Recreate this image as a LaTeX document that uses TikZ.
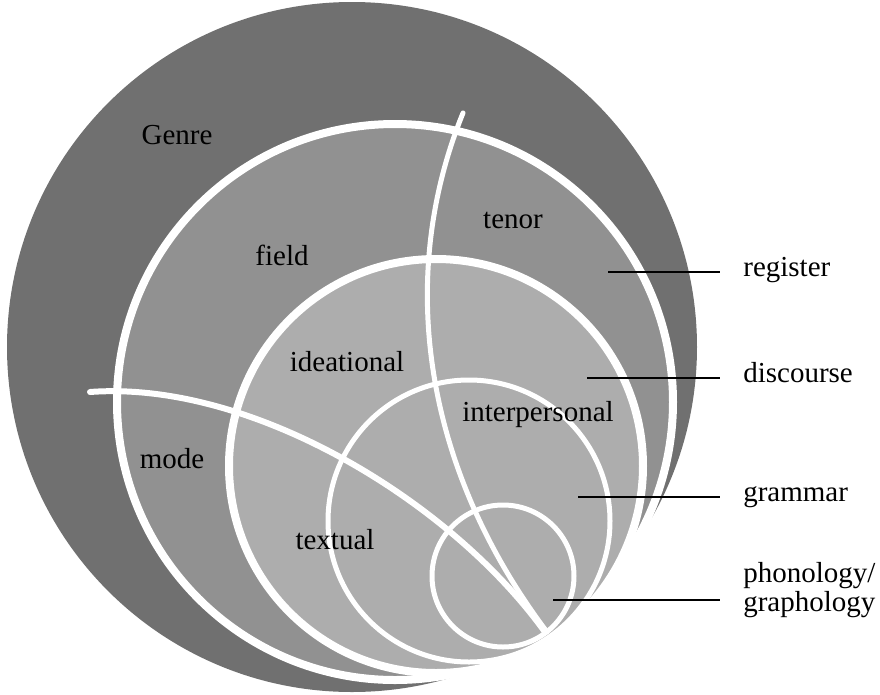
\documentclass[tikz,border=0pt]{standalone}
\usepackage{fontspec}
\setmainfont{Liberation Serif}
\usepackage{xcolor}
\usepackage{tikz}

\definecolor{genregray}{gray}{0.44}
\definecolor{reggray}{gray}{0.57}
\definecolor{discgray}{gray}{0.68}

\begin{document}
\begin{tikzpicture}[
    x=0.02cm, y=-0.02cm,
    font=\fontsize{16.5}{19}\selectfont,
    ring/.style={draw=white, line width=0.16cm},
    thinring/.style={draw=white, line width=0.1cm},
    split/.style={draw=white, line width=0.1cm, line cap=round},
    lead/.style={draw=black, line width=0.055cm},
    tag/.style={inner sep=0pt},
    lbl/.style={anchor=west, inner ysep=0pt, inner xsep=0.46cm,
                text height=0.68em, text depth=0.22em},
  ]

  \useasboundingbox (0,0) rectangle (880,694);

  % -- nested strata
  \fill[genregray] (352,347) circle[radius=345];
  \filldraw[ring, fill=reggray] (395,402) circle[radius=278];
  \filldraw[ring, fill=discgray] (436,466) circle[radius=207];
  \draw[thinring] (469,521) circle[radius=141];
  \draw[thinring] (503,576) circle[radius=71];

  % -- metafunction splits
  \draw[split] (463,113) .. controls (395,280) and (425,470) .. (547,632);
  \draw[split, line width=0.12cm] (90,392) .. controls (250,380) and (450,500) .. (545,632);

  % -- inner labels
  \node[tag] (genre) at (177,135) {Genre};
  \node[tag] (field) at (282,255) {field};
  \node[tag] (tenor) at (513,220) {tenor};
  \node[tag] (ideational) at (347,362) {ideational};
  \node[tag] (interpersonal) at (538,415) {interpersonal};
  \node[tag] (mode) at (172,459) {mode};
  \node[tag] (textual) at (335,540) {textual};

  % -- stratum labels
  \coordinate (regpt) at (608,272);
  \node[lbl] (reglbl) at (720,272) {register};
  \coordinate (discpt) at (587,378);
  \node[lbl] (disclbl) at (720,378) {discourse};
  \coordinate (grampt) at (578,497);
  \node[lbl] (gramlbl) at (720,497) {grammar};
  \coordinate (phonpt) at (553,600);
  \node[anchor=west, inner ysep=0pt, inner xsep=0.46cm, align=left,
        font=\fontsize{16.5}{13.7}\selectfont] (phonlbl) at (720,590)
    {phonology/\\graphology};

  \draw[lead] (regpt) -- (regpt -| reglbl.west);
  \draw[lead] (discpt) -- (discpt -| disclbl.west);
  \draw[lead] (grampt) -- (grampt -| gramlbl.west);
  \draw[lead] (phonpt) -- (phonpt -| phonlbl.west);

\end{tikzpicture}
\end{document}
